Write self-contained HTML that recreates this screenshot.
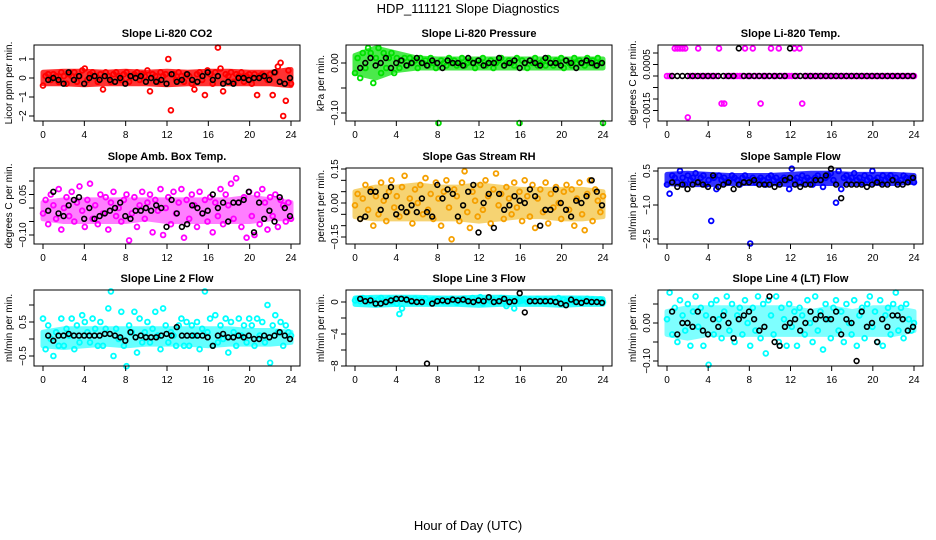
<!DOCTYPE html>
<html><head><meta charset="utf-8"><title>HDP_111121 Slope Diagnostics</title>
<style>
html,body{margin:0;padding:0;background:#fff;}
svg{display:block;font-family:"Liberation Sans",sans-serif;}
</style></head>
<body>
<svg id="chart" width="936" height="540" viewBox="0 0 936 540" xmlns="http://www.w3.org/2000/svg">
<text x="468" y="13" text-anchor="middle" font-size="13">HDP_111121  Slope Diagnostics</text>
<text x="468" y="530" text-anchor="middle" font-size="13">Hour of Day (UTC)</text>
</svg>
<script>
const xTicks = [0,4,8,12,16,20,24];
const bandHours = [0,2,4,6,8,10,12,14,16,18,20,22,24];
const co2Main = [-0.4,0.1,0.2,-0.1,0.2,0.1,-0.2,0.3,0.1,-0.3,0.2,0.1,0.3,-0.2,0.1,0.4,0.5,-0.1,0.2,0.3,0.1,-0.2,0.2,-0.6,0.3,0.1,-0.2,0.2,0.3,0.1,-0.1,0.2,0.3,-0.2,0.1,0.2,0.3,-0.1,0.2,0.1,0.4,-0.7,0.2,0.1,-0.2,0.3,0.1,0.2,1.0,-1.7,0.2,-0.1,0.3,0.1,-0.2,0.2,0.1,-0.3,-0.6,0.2,0.3,-0.1,-0.9,0.4,0.2,-0.3,0.3,1.6,0.5,-0.7,0.2,0.1,0.3,-0.2,0.2,0.1,0.3,-0.2,0.1,0.2,-0.3,0.2,-0.9,0.1,0.2,0.1,-0.1,0.2,-0.9,0.3,0.6,0.8,-2.0,-1.2,0.4,-0.3];
const co2Black = [-0.1,0,-0.1,-0.3,0.3,-0.1,0.1,-0.3,0,0.1,-0.1,0.1,-0.1,-0.2,0,-0.3,0.1,0,0.1,-0.2,0,-0.2,-0.1,-0.3,0.2,-0.2,-0.1,0.2,-0.1,-0.2,0.1,0.3,-0.1,0.1,-0.3,-0.2,-0.3,0,0,-0.1,0,0,0.1,-0.1,0.3,-0.2,-0.3,0];
const co2BandLo = [-0.3,-0.3,-0.35,-0.3,-0.3,-0.3,-0.35,-0.3,-0.3,-0.3,-0.3,-0.3,-0.4];
const co2BandHi = [0.3,0.35,0.35,0.3,0.35,0.3,0.35,0.3,0.35,0.35,0.3,0.3,0.45];
const presMain = [-0.02,0.01,-0.03,0.02,-0.01,0.03,0.02,-0.04,0.01,0.03,-0.02,0.02,-0.01,0.01,0.02,-0.02,0.01,-0.01,0.005,0.01,-0.005,0.01,0,0.005,-0.01,0.01,0,0.005,-0.005,0.01,0,-0.01,-0.12,0.005,0,-0.005,0.01,0,0.005,-0.005,0,0.01,-0.005,0,0.005,0,-0.01,0.005,0,0.01,-0.005,0,0.005,-0.01,0,0.005,0.01,-0.005,0,0.005,0,-0.005,0.01,-0.12,0.005,0,-0.01,0.005,0,0.01,-0.005,0,0.005,-0.005,0.01,0,-0.005,0.005,0,0.01,-0.01,0.005,0,-0.005,0.01,0,0.005,0,-0.005,0.01,0,0.005,-0.005,0.01,0,-0.12];
const presBlack = [-0.01,0,0.01,-0.005,0,0.01,-0.01,0,0.005,-0.005,0,0.01,0,-0.005,0.005,0,-0.01,0.005,0,0,-0.005,0.01,0,0.005,-0.005,0,0,0.01,-0.005,0,0.005,-0.01,0,0.005,0,-0.005,0.01,0,0,-0.005,0.005,0,-0.01,0,0.005,0,-0.005,0];
const presBandLo = [-0.02,-0.03,-0.015,-0.01,-0.01,-0.01,-0.01,-0.01,-0.01,-0.01,-0.01,-0.01,-0.01];
const presBandHi = [0.015,0.03,0.02,0.01,0.008,0.008,0.008,0.008,0.008,0.008,0.008,0.008,0.008];
const tempMain = [0,0,0,0.0012,0.0012,0.0012,0.0012,0.0012,-0.0018,0,0,0,0.0012,0,0,0,0,0,0,0,0.0012,-0.0012,-0.0012,0,0,0,0,0,0,0,0.0012,0,0,0.0012,0,0,-0.0012,0,0,0,0.0012,0,0,0.0012,0,0,0,0,0,0.0012,0,0.0012,-0.0012,0,0,0,0,0,0,0,0,0,0,0,0,0,0,0,0,0,0,0,0,0,0,0,0,0,0,0,0,0,0,0,0,0,0,0,0,0,0,0,0,0,0,0];
const tempBlack = [0,0,0,0,0,0,0,0,0,0,0,0,0,0.0012,0,0,0,0,0,0,0,0,0,0.0012,0,0,0,0,0,0,0,0,0,0,0,0,0,0,0,0,0,0,0,0,0,0,0,0];
const tempBandLo = [0,0,0,0,0,0,0,0,0,0,0,0,0];
const tempBandHi = [0,0,0,0,0,0,0,0,0,0,0,0,0];
const ambMain = [-0.02,0.03,-0.06,0.05,0.01,-0.04,0.07,-0.08,0.0,0.04,-0.03,0.06,-0.05,0.02,0.08,-0.01,-0.07,0.03,0.09,-0.04,0.01,-0.06,0.05,-0.02,0.04,-0.08,0.02,0.06,-0.03,0.0,-0.05,0.03,0.05,-0.12,-0.02,0.04,-0.07,0.01,0.06,-0.04,0.02,0.05,-0.09,0.03,-0.01,0.07,-0.1,0.0,0.04,-0.06,0.06,-0.02,0.02,0.07,-0.11,0.03,-0.04,0.05,0.01,-0.07,0.06,-0.02,0.03,-0.05,0.04,-0.09,0.02,-0.03,0.07,-0.06,0.05,0.01,0.09,-0.04,0.11,0.02,-0.07,0.04,-0.11,0.06,-0.03,-0.1,0.05,-0.06,0.07,0.02,-0.08,0.04,-0.03,0.05,-0.07,0.03,0.01,-0.05,0.02,-0.04];
const ambBlack = [-0.01,0.06,-0.02,-0.03,0.01,0.03,0.04,-0.04,0.0,-0.04,-0.03,-0.02,-0.01,0.0,0.02,-0.03,-0.04,-0.01,-0.01,0.0,-0.01,0.01,0.0,-0.07,0.03,-0.02,-0.07,-0.06,0.01,0.0,-0.02,-0.01,0.05,0.0,0.02,-0.05,0.02,0.02,0.03,0.06,-0.09,0.02,-0.04,-0.01,-0.05,0.04,0.0,-0.03];
const ambBandLo = [-0.04,-0.05,-0.05,-0.05,-0.05,-0.04,-0.05,-0.05,-0.05,-0.05,-0.05,-0.04,-0.04];
const ambBandHi = [0.02,0.03,0.03,0.03,0.03,0.03,0.03,0.03,0.03,0.03,0.04,0.03,0.02];
const rhMain = [-0.01,0.04,-0.07,0.02,0.08,-0.03,0.06,-0.1,0.03,-0.05,0.09,0.01,-0.08,0.05,0.1,-0.02,0.03,-0.06,0.07,0.12,-0.04,0.02,-0.09,0.06,0.0,0.08,-0.05,0.11,-0.03,0.04,-0.07,0.09,0.02,-0.1,0.05,0.1,-0.02,-0.16,0.06,0.03,-0.08,0.09,0.14,-0.04,-0.11,0.05,0.01,-0.06,0.08,-0.03,0.1,0.03,-0.09,0.06,0.13,-0.01,0.04,-0.07,0.07,0.02,-0.05,0.09,-0.02,0.05,-0.08,0.1,0.03,-0.06,0.08,-0.11,0.02,0.06,-0.04,0.09,-0.09,0.04,-0.02,0.07,0.0,-0.07,0.05,0.08,-0.03,0.06,-0.1,0.02,0.09,-0.05,-0.12,0.04,0.1,-0.08,0.06,0.01,-0.04,0.03];
const rhBlack = [-0.07,-0.06,0.05,0.05,-0.03,0.03,0.07,-0.05,-0.02,-0.04,-0.01,-0.04,0.02,-0.04,-0.06,0.08,0.02,0.06,0.04,-0.06,-0.01,0.05,0.08,-0.13,0.0,0.04,-0.11,0.04,-0.03,-0.01,0.03,0.01,0.0,0.06,0.03,-0.1,-0.03,-0.03,0.06,0.0,-0.03,-0.06,0.01,0.0,0.03,0.1,0.05,-0.01];
const rhBandLo = [-0.06,-0.07,-0.07,-0.07,-0.07,-0.07,-0.08,-0.07,-0.06,-0.06,-0.07,-0.07,-0.06];
const rhBandHi = [0.05,0.07,0.07,0.08,0.07,0.07,0.08,0.07,0.06,0.06,0.06,0.06,0.05];
const flowMain = [-0.1,-0.5,0.3,0.2,0.0,0.5,0.2,-0.1,0.3,0.1,0.2,0.4,0.0,0.2,0.3,-0.1,0.1,-1.7,0.2,-0.3,0.3,0.1,0.2,0.0,0.1,0.3,0.2,0.1,-0.1,0.2,0.3,0.1,-2.7,0.2,0.0,0.1,0.2,0.1,-0.1,0.2,0.3,0.1,0.2,0.0,0.1,0.2,0.1,-0.3,0.6,0.1,0.2,0.0,0.3,0.1,0.2,0.1,-0.1,0.2,0.3,0.1,-0.2,0.2,0.3,0.4,0.1,-0.9,0.5,-0.3,0.2,0.3,0.1,0.2,0.4,0.1,0.2,0.0,0.3,0.1,0.2,0.5,0.1,0.2,0.0,0.3,0.1,0.2,0.3,0.1,0.2,0.0,0.1,0.3,0.2,0.1,0.2,0.0];
const flowBlack = [0,-0.2,-0.1,-0.3,-0.1,0.0,-0.1,-0.2,0.3,-0.2,-0.1,0.0,-0.3,-0.1,0.0,0.0,0.1,-0.1,-0.1,-0.1,-0.2,-0.1,0.1,0.2,-0.1,-0.2,-0.1,-0.1,0.1,0.1,0.3,0.6,-0.1,-0.7,-0.1,-0.1,-0.1,-0.1,-0.2,-0.1,0.0,-0.1,-0.1,0.1,-0.1,-0.1,0.0,0.2];
const flowBandLo = [-0.05,-0.1,-0.1,-0.05,-0.05,-0.05,-0.1,-0.05,-0.05,-0.05,-0.05,-0.05,0.0];
const flowBandHi = [0.35,0.4,0.35,0.3,0.3,0.3,0.35,0.4,0.4,0.35,0.35,0.35,0.3];
const l2Main = [0.6,-0.3,0.4,0.0,-0.5,0.2,-0.2,0.6,-0.2,0.3,0.1,0.6,-0.3,0.4,-0.1,0.7,0.5,0.2,-0.1,0.6,0.3,-0.2,0.5,-0.2,0.3,0.9,1.4,-0.5,0.3,0.0,0.8,-0.2,-0.8,0.4,0.2,0.8,-0.4,0.6,-0.1,0.2,0.5,-0.1,0.3,0.8,0.1,-0.3,0.9,0.4,-0.1,0.2,0.1,-0.2,0.4,0.6,-0.2,0.5,-0.2,0.4,0.1,0.5,-0.3,0.3,1.4,0.2,0.6,-0.2,0.7,-0.1,0.4,0.0,0.6,-0.4,0.5,0.2,-0.2,0.6,0.1,0.4,-0.1,0.6,0.4,-0.2,0.6,0.1,0.5,-0.1,1.0,-0.7,0.4,0.7,0.2,0.5,-0.2,0.4,0.2,0.1];
const l2Black = [0.1,-0.05,0.1,0.1,0.15,0.1,0.1,0.1,0.1,0.1,0.1,0.15,0.15,0.1,0.05,-0.05,0.2,0.05,0.1,0.05,0.05,0.05,0.1,0.15,0.1,0.35,0.1,0.1,0.1,0.1,0.1,0.05,-0.2,0.1,0.15,0.05,0.05,0.1,0.05,0.1,0.0,0.0,0.1,0.05,0.1,0.2,0.1,0.0];
const l2BandLo = [-0.2,-0.25,-0.2,-0.15,-0.2,-0.15,-0.15,-0.15,-0.2,-0.15,-0.15,-0.15,-0.1];
const l2BandHi = [0.2,0.3,0.3,0.3,0.3,0.3,0.3,0.3,0.3,0.3,0.25,0.25,0.2];
const l3Main = [0.2,0.4,0.1,0.5,0.3,0.0,0.4,0.2,-0.3,0.3,0.5,0.1,0.2,0.4,0.0,0.3,-0.2,-1.5,-0.8,0.4,0.2,0.3,0.0,0.4,0.2,0.3,0.1,0.4,0.0,0.2,0.3,0.1,0.4,0.2,0.0,0.3,0.1,0.4,0.2,-0.1,0.3,0.2,0.4,0.1,0.2,0.5,0.0,0.3,0.6,-0.2,0.2,0.4,0.1,0.3,0.0,0.2,0.5,0.1,-0.5,0.3,0.2,-0.8,0.3,0.1,0.2,0.4,0.0,0.3,0.2,0.1,0.4,0.2,0.0,0.3,0.1,0.2,0.4,0.0,0.5,-0.2,0.3,0.1,0.2,0.4,0.0,0.2,0.3,0.1,0.2,0.4,0.0,0.3,0.1,0.2,0.3,0.0];
const l3Black = [0.4,0.1,0.2,-0.2,-0.2,0.0,0.2,0.4,0.4,0.3,0.1,0.0,0.0,-7.7,-0.2,0.1,0.2,0.1,0.3,0.2,0.3,0.1,0.0,0.2,0.1,0.6,0.0,0.1,0.4,0.0,0.1,1.1,-1.3,0.1,0.1,0.1,0.1,0.1,0.0,-0.2,-0.4,0.3,0.0,-0.1,0.1,0.0,0.0,-0.1];
const l3BandLo = [-0.3,-0.4,-0.3,-0.3,-0.3,-0.3,-0.4,-0.3,-0.3,-0.3,-0.4,-0.3,-0.3];
const l3BandHi = [0.5,0.6,0.6,0.6,0.5,0.5,0.6,0.6,0.5,0.5,0.5,0.5,0.4];
const l4Main = [0.01,0.08,-0.03,0.04,-0.05,0.06,0.02,-0.02,0.05,-0.06,0.03,0.07,-0.01,0.04,-0.06,0.02,-0.11,0.05,-0.03,0.06,0.01,-0.04,0.03,0.07,-0.02,0.05,-0.05,0.02,0.04,-0.03,0.06,0.0,-0.06,0.04,-0.02,0.07,-0.04,0.05,-0.08,0.06,0.02,-0.03,0.07,-0.05,0.04,0.01,-0.06,0.05,-0.01,0.03,-0.06,0.04,0.02,-0.03,0.06,0.0,-0.05,0.07,-0.02,0.03,-0.07,0.05,0.01,-0.04,0.04,0.06,-0.02,0.03,-0.05,0.05,0.0,-0.03,0.06,-0.06,0.02,0.04,-0.04,0.05,0.07,-0.01,0.03,-0.05,0.06,-0.06,0.02,0.04,-0.03,0.05,0.08,-0.02,0.04,-0.04,0.05,0.01,-0.02,0.0];
const l4Black = [0.03,-0.03,0.0,0.0,-0.01,0.03,-0.02,-0.03,0.01,-0.01,0.02,0.0,-0.04,0.01,0.02,0.03,0.01,-0.02,-0.01,0.07,-0.05,-0.06,-0.01,0.0,0.01,-0.02,0.0,0.03,0.01,0.02,0.01,0.01,0.03,-0.03,0.01,0.0,-0.1,0.03,-0.01,0.0,-0.05,0.01,-0.01,0.02,0.02,0.01,-0.02,-0.01];
const l4BandLo = [-0.03,-0.04,-0.03,-0.03,-0.03,-0.03,-0.03,-0.03,-0.03,-0.03,-0.03,-0.03,-0.02];
const l4BandHi = [0.03,0.04,0.04,0.04,0.04,0.04,0.04,0.03,0.04,0.03,0.04,0.04,0.03];

const svg = document.getElementById('chart');
const NS = 'http://www.w3.org/2000/svg';
const cols = [[34,300],[346,612],[658,923]];
const rows = [[45,121],[168,244],[290,366]];
const panels = [
 {name:'co2',title:'Slope Li-820 CO2',ylab:'Licor ppm per min.',c:0,r:0,main:co2Main,black:co2Black,lo:co2BandLo,hi:co2BandHi,color:'#ff0000',bandColor:'#ff0000',op:0.8,v0:0,p0:78,v1:1,p1:59,ticks:[-2,-1,0,1],labels:['\u22122','\u22121','0','1']},
 {name:'pressure',title:'Slope Li-820 Pressure',ylab:'kPa per min.',c:1,r:0,main:presMain,black:presBlack,lo:presBandLo,hi:presBandHi,color:'#00e000',bandColor:'#00e000',op:0.7,v0:0,p0:63,v1:-0.1,p1:113,ticks:[0,-0.05,-0.1],labels:['0.00','','\u22120.10']},
 {name:'temp',title:'Slope Li-820 Temp.',ylab:'degrees C per min.',c:2,r:0,main:tempMain,black:tempBlack,lo:tempBandLo,hi:tempBandHi,color:'#ff00ff',bandColor:'#ff00ff',op:0,v0:0,p0:76,v1:0.0005,p1:64.5,ticks:[0.001,0.0005,0,-0.0005,-0.001,-0.0015],labels:['','0.0005','','','','\u22120.0015']},
 {name:'amb-box-temp',title:'Slope Amb. Box Temp.',ylab:'degrees C per min.',c:0,r:1,main:ambMain,black:ambBlack,lo:ambBandLo,hi:ambBandHi,color:'#ff00ff',bandColor:'#ff00ff',op:0.5,v0:0,p0:208,v1:0.05,p1:194.5,ticks:[0.1,0.05,0,-0.05,-0.1],labels:['','0.05','','','\u22120.10']},
 {name:'gas-rh',title:'Slope Gas Stream RH',ylab:'percent per min.',c:1,r:1,main:rhMain,black:rhBlack,lo:rhBandLo,hi:rhBandHi,color:'#f5a000',bandColor:'#f0b000',op:0.55,v0:0,p0:203,v1:0.15,p1:169,ticks:[0.15,0.1,0.05,0,-0.05,-0.1,-0.15],labels:['0.15','','','0.00','','','\u22120.15']},
 {name:'sample-flow',title:'Slope Sample Flow',ylab:'ml/min per min.',c:2,r:1,main:flowMain,black:flowBlack,lo:flowBandLo,hi:flowBandHi,color:'#0000ff',bandColor:'#0000ff',op:0.8,v0:0.5,p0:171,v1:-1,p1:205,ticks:[0.5,-1,-2.5],labels:['0.5','\u22121.0','\u22122.5']},
 {name:'line2-flow',title:'Slope Line 2 Flow',ylab:'ml/min per min.',c:0,r:2,main:l2Main,black:l2Black,lo:l2BandLo,hi:l2BandHi,color:'#00ffff',bandColor:'#00ffff',op:0.6,v0:0,p0:339,v1:0.5,p1:322,ticks:[1,0.5,0,-0.5],labels:['','0.5','','\u22120.5']},
 {name:'line3-flow',title:'Slope Line 3 Flow',ylab:'ml/min per min.',c:1,r:2,main:l3Main,black:l3Black,lo:l3BandLo,hi:l3BandHi,color:'#00ffff',bandColor:'#00ffff',op:0.8,v0:0,p0:302,v1:-4,p1:334,ticks:[0,-2,-4,-6,-8],labels:['0','','\u22124','','\u22128']},
 {name:'line4-flow',title:'Slope Line 4 (LT) Flow',ylab:'ml/min per min.',c:2,r:2,main:l4Main,black:l4Black,lo:l4BandLo,hi:l4BandHi,color:'#00ffff',bandColor:'#00ffff',op:0.5,v0:0,p0:323,v1:0.05,p1:304,ticks:[0.05,0,-0.05,-0.1],labels:['','0.00','','\u22120.10']}
];
function mk(tag, attrs, parent){const e=document.createElementNS(NS,tag);for(const k in attrs)e.setAttribute(k,attrs[k]);(parent||svg).appendChild(e);return e;}
panels.forEach(p=>{
  const [L,R]=cols[p.c],[T,B]=rows[p.r];
  const g=mk('g',{});
  
  
  const xs=h=>L+9+h/24*(R-L-18);
  const ys=v=>p.p0+(v-p.v0)*(p.p1-p.p0)/(p.v1-p.v0);
  const t=mk('text',{x:(L+R)/2,y:T-8,'text-anchor':'middle','font-size':11,'font-weight':'bold'},g);t.textContent=p.title;
  
  
  const yl=mk('text',{x:0,y:0,transform:`translate(${L-22},${(T+B)/2}) rotate(-90)`,'text-anchor':'middle','font-size':10},g);yl.textContent=p.ylab;
  
  
  if(p.op>0){
    const top=bandHours.map((h,i)=>`${xs(h).toFixed(1)},${ys(p.hi[i]).toFixed(1)}`);
    const bot=bandHours.map((h,i)=>`${xs(h).toFixed(1)},${ys(p.lo[i]).toFixed(1)}`).reverse();
    const band=mk('polygon',{points:top.concat(bot).join(' '),fill:p.bandColor,stroke:p.bandColor,'stroke-width':5,'stroke-linejoin':'round',opacity:p.op},g);
    
    
  }
  const mg=mk('g',{fill:'none'},g);
  
  
  p.main.forEach((v,i)=>{const h=i*24/(p.main.length-1);
    const c=mk('circle',{cx:xs(h).toFixed(1),cy:ys(v).toFixed(1),r:2.4,stroke:p.color,'stroke-width':1.8},mg);
    
    });
  const bg=mk('g',{fill:'none'},g);
  
  
  p.black.forEach((v,i)=>{const h=0.5+i*23.4/(p.black.length-1);
    const c=mk('circle',{cx:xs(h).toFixed(1),cy:ys(v).toFixed(1),r:2.4,stroke:'#000','stroke-width':1.6},bg);
    
    });
  const box=mk('rect',{x:L,y:T,width:R-L,height:B-T,fill:'none',stroke:'#000','stroke-width':1},g);
  
  
  xTicks.forEach(h=>{const x=xs(h);
    mk('line',{x1:x,x2:x,y1:B,y2:B+5,stroke:'#000'},g);
    const tl=mk('text',{x:x,y:B+17,'text-anchor':'middle','font-size':10},g);tl.textContent=h;
    
    });
  p.ticks.forEach((v,i)=>{const y=ys(v);
    mk('line',{x1:L-5,x2:L,y1:y,y2:y,stroke:'#000'},g);
    if(p.labels[i]){const tl=mk('text',{x:0,y:0,transform:`translate(${L-8},${y}) rotate(-90)`,'text-anchor':'middle','font-size':10},g);tl.textContent=p.labels[i];
    
    }});
});
</script>
</body></html>
